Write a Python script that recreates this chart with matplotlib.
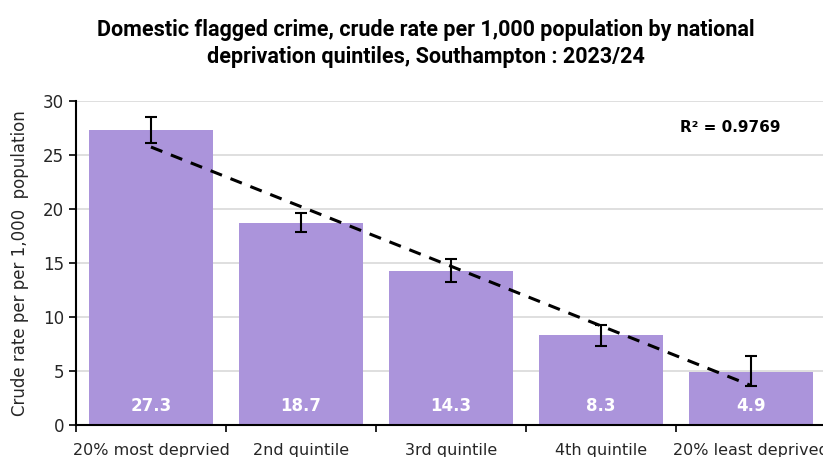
import matplotlib.pyplot as plt
import numpy as np

# Data
categories = ["20% most deprvied", "2nd quintile", "3rd quintile",
              "4th quintile", "20% least deprived"]
rates = [27.3, 18.7, 14.3, 8.3, 4.9]
ci_low = [26.1, 17.9, 13.2, 7.3, 3.6]
ci_high = [28.5, 19.6, 15.4, 9.3, 6.4]

bar_colour = "#AB94DB"

x = np.arange(len(categories))
rates_arr = np.array(rates)
yerr = [rates_arr - np.array(ci_low), np.array(ci_high) - rates_arr]

fig = plt.figure(figsize=(8.23, 4.57), dpi=100)
ax = fig.add_axes([0.0923, 0.07, 0.9113, 0.709])

ax.bar(x, rates, width=0.83, color=bar_colour, zorder=2)
ax.errorbar(x, rates, yerr=yerr, fmt="none", ecolor="black",
            elinewidth=1.5, capsize=4, capthick=1.5, zorder=4)

# linear trendline through the bars
slope, intercept = np.polyfit(x, rates_arr, 1)
fit = slope * x + intercept
r2 = 1 - np.sum((rates_arr - fit) ** 2) / np.sum((rates_arr - rates_arr.mean()) ** 2)
ax.plot(x, fit, color="black", linestyle=(0, (4, 3)), linewidth=2.2, zorder=3)
ax.text(3.86, 27.5, "R² = %.4f" % r2, ha="center", va="center",
        fontsize=11, fontweight="bold")

for xi, v in zip(x, rates):
    ax.text(xi, 1.8, "%.1f" % v, ha="center", va="center", color="white",
            fontsize=12, fontweight="bold", zorder=5)

ax.set_xlim(-0.5, 4.5)
ax.set_ylim(0, 30)
ax.set_yticks(range(0, 31, 5))
ax.yaxis.grid(True, color="#D9D9D9", linewidth=1.2, zorder=0)
ax.set_axisbelow(True)

ax.set_xticks(x)
ax.set_xticklabels(categories, fontsize=11.5, color="#262626")
ax.set_xticks(np.arange(-0.5, 5.0, 1.0), minor=True)
ax.tick_params(axis="x", which="major", length=0, pad=13)
ax.tick_params(axis="x", which="minor", length=5, width=1.2, direction="out")
ax.tick_params(axis="y", length=5, width=1.2, labelsize=12, labelcolor="#262626")

for side in ["top", "right"]:
    ax.spines[side].set_visible(False)
ax.spines["left"].set_linewidth(1.5)
ax.spines["bottom"].set_linewidth(1.5)

ax.set_ylabel("Crude rate per per 1,000  population", fontsize=12,
              color="#262626", labelpad=10)

fig.text(0.517, 0.905, "Domestic flagged crime, crude rate per 1,000 population by national\n"
         "deprivation quintiles, Southampton : 2023/24",
         ha="center", va="center", fontsize=15.5, fontweight="bold",
         family=["Roboto", "DejaVu Sans"], linespacing=1.25)

fig.savefig("out.png", dpi=100)
